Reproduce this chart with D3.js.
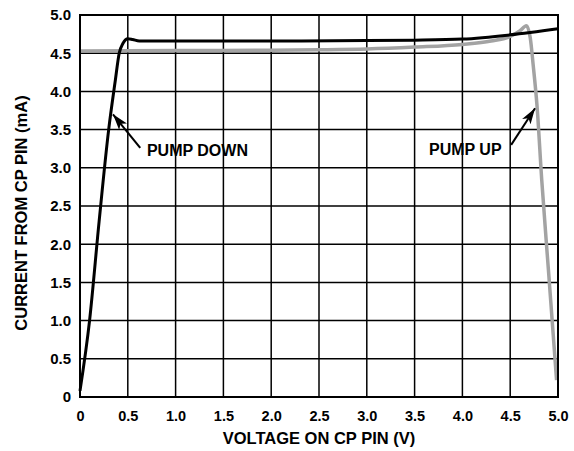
<!DOCTYPE html>
<html>
<head>
<meta charset="utf-8">
<script src="https://cdn.jsdelivr.net/npm/d3@7"></script>
<style>
  body { margin: 0; background: #fff; }
  svg text { font-family: "Liberation Sans", Arial, sans-serif; font-weight: bold; fill: #000; }
</style>
</head>
<body>
<svg id="chart" width="574" height="451"></svg>
<script>
// Data
const xTicks = [0, 0.5, 1.0, 1.5, 2.0, 2.5, 3.0, 3.5, 4.0, 4.5, 5.0];
const yTicks = [0, 0.5, 1.0, 1.5, 2.0, 2.5, 3.0, 3.5, 4.0, 4.5, 5.0];

// Pump down (black)
const downV = [0, 0.1, 0.2, 0.3, 0.37, 0.41, 0.45, 0.5, 0.55, 0.62, 1.0, 2.0, 3.0, 3.5, 4.0, 4.5, 5.0];
const downI = [0.08, 1.0, 2.3, 3.5, 4.15, 4.5, 4.63, 4.69, 4.68, 4.66, 4.66, 4.66, 4.665, 4.67, 4.685, 4.74, 4.82];

// Pump up (gray)
const upV = [0, 1.0, 2.0, 2.5, 3.0, 3.5, 4.0, 4.3, 4.5, 4.6, 4.67, 4.71, 4.74, 4.78, 4.83, 4.9, 4.985];
const upI = [4.53, 4.535, 4.54, 4.545, 4.555, 4.58, 4.615, 4.66, 4.72, 4.79, 4.86, 4.7, 4.35, 3.82, 2.84, 1.66, 0.22];

// Annotations: [label, textV, textI, tailV, tailI, tipV, tipI, anchor]
const notes = [
    ['PUMP DOWN', 0.70, 3.15, 0.63, 3.26, 0.345, 3.70, 'start'],
    ['PUMP UP', 4.41, 3.17, 4.51, 3.30, 4.76, 3.78, 'end']
];

const margin = {top: 15, right: 16, bottom: 54, left: 80};
const svg = d3.select('#chart');
const width = 574 - margin.left - margin.right;
const height = 451 - margin.top - margin.bottom;

const g = svg.append('g')
    .attr('transform', `translate(${margin.left},${margin.top})`);

const x = d3.scaleLinear().domain([0, 5]).range([0, width]);
const y = d3.scaleLinear().domain([0, 5]).range([height, 0]);

// Grid
g.append('g')
    .selectAll('line')
    .data(xTicks.slice(1, -1))
    .enter().append('line')
    .attr('x1', d => x(d)).attr('x2', d => x(d))
    .attr('y1', 0).attr('y2', height)
    .attr('stroke', '#000').attr('stroke-width', 1.5);

g.append('g')
    .selectAll('line')
    .data(yTicks.slice(1, -1))
    .enter().append('line')
    .attr('y1', d => y(d)).attr('y2', d => y(d))
    .attr('x1', 0).attr('x2', width)
    .attr('stroke', '#000').attr('stroke-width', 1.5);

// Axes (labels only)
const fmt = d => d === 0 ? '0' : d3.format('.1f')(d);

const xAxis = g.append('g')
    .attr('transform', `translate(0,${height})`)
    .call(d3.axisBottom(x).tickValues(xTicks).tickFormat(fmt).tickSize(0).tickPadding(14));
xAxis.select('.domain').remove();
xAxis.selectAll('text').style('font-size', '14.5px');

const yAxis = g.append('g')
    .call(d3.axisLeft(y).tickValues(yTicks).tickFormat(fmt).tickSize(0).tickPadding(9));
yAxis.select('.domain').remove();
yAxis.selectAll('text').style('font-size', '15px');

// Curves
const line = d3.line()
    .x(d => x(d[0]))
    .y(d => y(d[1]))
    .curve(d3.curveMonotoneX);

g.append('path')
    .datum(upV.map((v, i) => [v, upI[i]]))
    .attr('d', line)
    .attr('fill', 'none')
    .attr('stroke', '#a3a3a3')
    .attr('stroke-width', 3.5);

g.append('path')
    .datum(downV.map((v, i) => [v, downI[i]]))
    .attr('d', line)
    .attr('fill', 'none')
    .attr('stroke', '#000')
    .attr('stroke-width', 3);

// Frame
g.append('rect')
    .attr('width', width).attr('height', height)
    .attr('fill', 'none')
    .attr('stroke', '#000').attr('stroke-width', 2);

// Annotations with arrows
svg.append('defs').append('marker')
    .attr('id', 'arrow')
    .attr('viewBox', '0 0 16 10')
    .attr('refX', 16).attr('refY', 5)
    .attr('markerWidth', 16).attr('markerHeight', 10)
    .attr('markerUnits', 'userSpaceOnUse')
    .attr('orient', 'auto')
    .append('path')
    .attr('d', 'M0,0 L16,5 L0,10 L4,5 Z')
    .attr('fill', '#000');

notes.forEach(n => {
    g.append('line')
        .attr('x1', x(n[3])).attr('y1', y(n[4]))
        .attr('x2', x(n[5])).attr('y2', y(n[6]))
        .attr('stroke', '#000').attr('stroke-width', 2)
        .attr('marker-end', 'url(#arrow)');
    g.append('text')
        .attr('x', x(n[1])).attr('y', y(n[2]))
        .attr('text-anchor', n[7])
        .style('font-size', '16px')
        .text(n[0]);
});

// Axis titles
svg.append('text')
    .attr('text-anchor', 'middle')
    .attr('x', margin.left + width / 2)
    .attr('y', 444)
    .style('font-size', '16.5px')
    .text('VOLTAGE ON CP PIN (V)');

svg.append('text')
    .attr('text-anchor', 'middle')
    .attr('transform', 'rotate(-90)')
    .attr('x', -213)
    .attr('y', 27)
    .style('font-size', '16.5px')
    .text('CURRENT FROM CP PIN (mA)');
</script>
</body>
</html>
